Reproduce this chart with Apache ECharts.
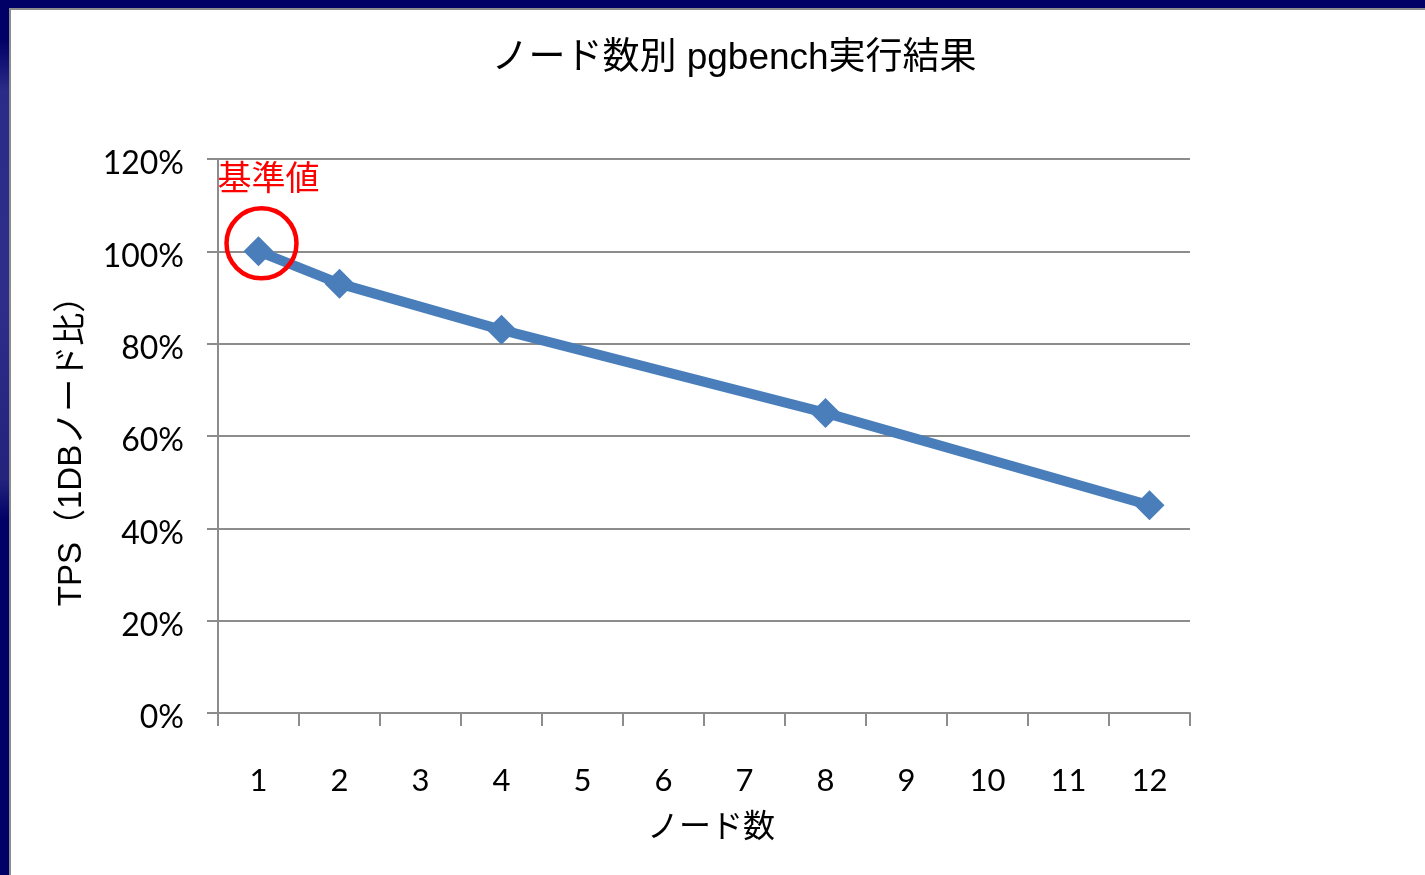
<!DOCTYPE html>
<html lang="ja">
<head>
<meta charset="utf-8">
<title>ノード数別 pgbench実行結果</title>
<script src="https://cdn.jsdelivr.net/npm/echarts@6/dist/echarts.min.js"></script>
<style>
  html, body { margin: 0; padding: 0; width: 1425px; height: 875px; overflow: hidden; }
  body {
    background: #000066;
    position: relative;
  }
  /* slide decoration on the left edge */
  #deco {
    position: absolute; left: 0; top: 0; width: 12px; height: 875px;
    background: linear-gradient(180deg, #000066 0px, #000066 40px, #2a2a88 90px, #2e2e8a 300px, #23237e 480px, #000066 520px, #000066 875px);
  }
  #panel {
    position: absolute; left: 9px; top: 8px; width: 1430px; height: 880px;
    background: #ffffff;
    border-left: 2px solid #8c8c8c;
    border-top: 2px solid #8c8c8c;
  }
  #chart { position: absolute; left: 0; top: 0; width: 1425px; height: 875px; }
</style>
</head>
<body>
<div id="deco"></div>
<div id="panel"></div>
<div id="chart"></div>
<script>
// Node counts on the x axis, relative TPS (%) against a single DB node
const nodeCounts = ['1', '2', '3', '4', '5', '6', '7', '8', '9', '10', '11', '12'];
const tpsRatio = [100, 93, null, 83, null, null, null, 65, null, null, null, 45];
const yTicks = { min: 0, max: 120, step: 20 };

const titleText = 'ノード数別 pgbench実行結果';
const xName = 'ノード数';
const yName = 'TPS（1DBノード比）';
const baseLabel = '基準値';

const gray = '#8c8c8c';
const lineBlue = '#4a7ebb';
const cjk = '"Liberation Sans", "Noto Sans CJK JP", sans-serif';
const latin = 'Lato, "Open Sans", sans-serif';

const chart = echarts.init(document.getElementById('chart'), null, { renderer: 'canvas' });

chart.setOption({
  backgroundColor: 'transparent',
  animation: false,
  title: {
    text: titleText,
    left: 729,
    textAlign: 'center',
    top: 35,
    textStyle: { fontFamily: cjk, fontSize: 37, fontWeight: 'normal', color: '#000' }
  },
  grid: { left: 218, right: 235, top: 159, bottom: 162, containLabel: false },
  xAxis: {
    type: 'category',
    data: nodeCounts,
    boundaryGap: true,
    name: xName,
    nameLocation: 'middle',
    nameGap: 99,
    nameTextStyle: { fontFamily: cjk, fontSize: 32, color: '#000', padding: [0, 0, 0, 14] },
    axisLine: { show: true, lineStyle: { color: gray, width: 2 } },
    axisTick: { show: true, length: 13, lineStyle: { color: gray, width: 2 } },
    axisLabel: { margin: 52, fontFamily: latin, fontSize: 31, color: '#000' },
    splitLine: { show: false }
  },
  yAxis: {
    type: 'value',
    min: yTicks.min,
    max: yTicks.max,
    interval: yTicks.step,
    name: yName,
    nameLocation: 'middle',
    nameRotate: 90,
    nameGap: 130,
    nameTextStyle: { fontFamily: cjk, fontSize: 33, color: '#000', padding: [0, 14, 0, 0] },
    axisLine: { show: true, lineStyle: { color: gray, width: 2 } },
    axisTick: { show: true, length: 11, lineStyle: { color: gray, width: 2 } },
    axisLabel: {
      margin: 34, fontFamily: latin, fontSize: 32, color: '#000',
      verticalAlign: 'top',
      lineHeight: 10,
      formatter: '{value}%'
    },
    splitLine: { show: true, lineStyle: { color: gray, width: 2 } }
  },
  series: [{
    type: 'line',
    data: tpsRatio,
    connectNulls: true,
    symbol: 'diamond',
    symbolSize: 30,
    lineStyle: { color: lineBlue, width: 10 },
    itemStyle: { color: lineBlue },
    markPoint: {
      symbol: 'circle',
      symbolSize: 70,
      symbolOffset: [3, -8],
      itemStyle: { color: 'rgba(0,0,0,0)', borderColor: '#ff0000', borderWidth: 4.5 },
      label: {
        show: true,
        position: 'top',
        distance: 12,
        offset: [7, 0],
        formatter: baseLabel,
        fontFamily: '"Noto Sans CJK JP", sans-serif',
        fontSize: 34,
        color: '#ff0000'
      },
      data: [{ coord: [nodeCounts[0], tpsRatio[0]] }]
    }
  }]
});
</script>
</body>
</html>
